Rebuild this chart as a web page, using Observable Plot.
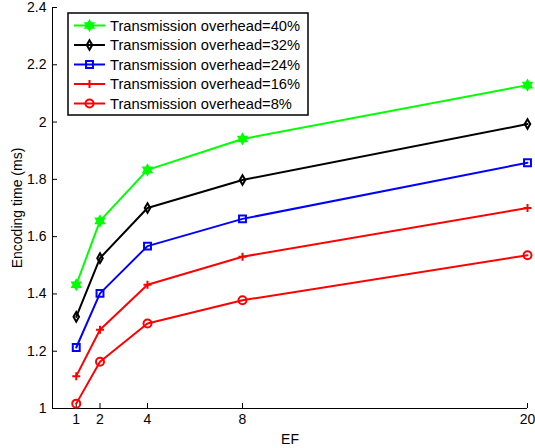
<!DOCTYPE html>
<html>
<head>
<meta charset="utf-8">
<script src="https://cdn.jsdelivr.net/npm/d3@7"></script>
<script src="https://cdn.jsdelivr.net/npm/@observablehq/plot@0.6"></script>
<style>
  body { margin: 0; background: #fff; }
  svg { display: block; overflow: visible; }
</style>
</head>
<body>
<div id="chart"></div>
<script>
// Encoding time versus EF for several transmission overheads
const efValues = [1, 2, 4, 8, 20];
const overheadLabels = ["Transmission overhead=40%", "Transmission overhead=32%", "Transmission overhead=24%", "Transmission overhead=16%", "Transmission overhead=8%"];
const time40 = [1.432, 1.655, 1.833, 1.941, 2.129];
const time32 = [1.320, 1.525, 1.700, 1.798, 1.993];
const time24 = [1.213, 1.402, 1.567, 1.662, 1.858];
const time16 = [1.113, 1.275, 1.432, 1.530, 1.700];
const time8  = [1.017, 1.163, 1.297, 1.378, 1.535];
const xTicks = [1, 2, 4, 8, 20];
const yTicks = [1, 1.2, 1.4, 1.6, 1.8, 2, 2.2, 2.4];

const seriesValues = [time40, time32, time24, time16, time8];
const seriesColors = ["#00ff00", "#000000", "#0000ff", "#ff0000", "#ff0000"];

// six-pointed star marker
const hexagram = {
  draw(ctx, size) {
    const R = Math.sqrt(size / Math.PI);
    const r = R / Math.sqrt(3);
    for (let i = 0; i < 12; i++) {
      const a = -Math.PI / 2 + i * Math.PI / 6;
      const rad = i % 2 ? r : R;
      const px = rad * Math.cos(a), py = rad * Math.sin(a);
      if (i === 0) ctx.moveTo(px, py); else ctx.lineTo(px, py);
    }
    ctx.closePath();
  }
};
const seriesSymbols = [hexagram, d3.symbolDiamond, d3.symbolSquare2, d3.symbolPlus, d3.symbolCircle];
const seriesR = [4.6, 2.9, 4.4, 2.7, 4];
const seriesFill = ["#00ff00", "none", "none", "none", "none"];

const rows = seriesValues.flatMap((vals, s) =>
  vals.map((v, i) => ({series: s, ef: efValues[i], time: v}))
);

const width = 535, height = 448;
const font = "'Liberation Sans', Arial, sans-serif";

const chart = Plot.plot({
  width, height,
  marginLeft: 52, marginRight: 8, marginTop: 7, marginBottom: 40,
  style: {fontFamily: font, fontSize: "14px", background: "#fff", color: "#000", overflow: "visible"},
  x: {domain: [0, 20]},
  y: {domain: [1, 2.4]},
  marks: [
    Plot.ruleX([0], {stroke: "#000", strokeWidth: 1}),
    Plot.ruleY([1], {stroke: "#000", strokeWidth: 1}),
    Plot.axisX({ticks: xTicks, tickSize: -5, tickPadding: 11, tickFormat: d => String(d),
      label: "EF", labelAnchor: "center", labelArrow: "none", labelOffset: 35, fontSize: 14}),
    Plot.axisY({ticks: yTicks, tickSize: -5, tickPadding: 11, tickFormat: d => String(d),
      label: "Encoding time (ms)", labelAnchor: "center", labelArrow: "none", labelOffset: 40, fontSize: 14}),
    Plot.line(rows, {x: "ef", y: "time", z: "series", stroke: d => seriesColors[d.series], strokeWidth: 2}),
    ...seriesValues.map((vals, s) =>
      Plot.dot(rows.filter(d => d.series === s), {
        x: "ef", y: "time", symbol: seriesSymbols[s], r: seriesR[s],
        fill: seriesFill[s], stroke: seriesColors[s], strokeWidth: 2
      })
    )
  ]
});

// legend box in the upper left of the plot area
const svg = d3.select(chart);
const lg = svg.append("g").attr("transform", "translate(68,13)").attr("text-anchor", "start");
lg.append("rect").attr("width", 240).attr("height", 102)
  .attr("fill", "#fff").attr("stroke", "#000").attr("stroke-width", 1.5);
overheadLabels.forEach((label, s) => {
  const cy = 12.5 + s * 19.5;
  const row = lg.append("g").attr("transform", `translate(0,${cy})`);
  row.append("line").attr("x1", 6).attr("x2", 37).attr("y1", 0).attr("y2", 0)
    .attr("stroke", seriesColors[s]).attr("stroke-width", 2);
  row.append("path").attr("transform", "translate(21.5,0)")
    .attr("d", d3.symbol(seriesSymbols[s], Math.PI * seriesR[s] * seriesR[s])())
    .attr("fill", seriesFill[s]).attr("stroke", seriesColors[s]).attr("stroke-width", 2);
  row.append("text").attr("x", 42).attr("y", 0).attr("dy", "0.35em")
    .attr("text-anchor", "start")
    .attr("font-family", font).attr("font-size", 14.7).attr("fill", "#000")
    .text(label);
});

document.getElementById("chart").append(chart);
</script>
</body>
</html>
